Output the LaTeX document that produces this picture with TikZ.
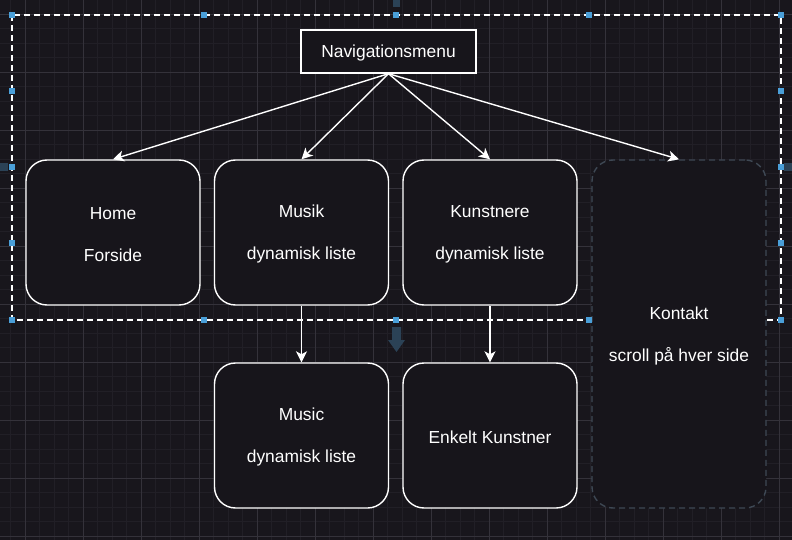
\documentclass[tikz,border=0pt]{standalone}
\usepackage{fontspec}
\setmainfont{Liberation Sans}
\usetikzlibrary{arrows.meta}
\definecolor{bgc}{HTML}{18161C}
\definecolor{gridminor}{HTML}{211F26}
\definecolor{gridmajor}{HTML}{34323A}
\definecolor{boxfill}{HTML}{17151B}
\definecolor{handleblue}{HTML}{4A9FD8}
\definecolor{hoverblue}{HTML}{2B4256}
\definecolor{ghost}{HTML}{3E4854}
\newcommand\lst{\rule[-0.6pt]{0pt}{17pt}}
\tikzset{
  x=1pt, y=-1pt,
  lbl/.style={font=\fontsize{17.4}{21}\selectfont, text=white, align=center},
  roundbox/.style={lbl, draw=white, line width=1.4pt, fill=boxfill, rounded corners=21pt,
    minimum width=174pt, minimum height=145pt, inner sep=0pt},
  ghostbox/.style={lbl, draw=ghost, line width=1.4pt, fill=boxfill, rounded corners=21pt,
    dash pattern=on 6pt off 4pt, minimum width=174pt, minimum height=348pt, inner sep=0pt},
  menubox/.style={lbl, draw=white, line width=1.4pt, fill=boxfill,
    minimum width=175pt, minimum height=43pt, inner sep=0pt},
  conn/.style={draw=white, line width=1.4pt, -{Stealth[length=11pt,width=11pt,inset=3pt]}},
  selbox/.style={draw=white, line width=1.3pt, dash pattern=on 6pt off 4pt},
  handle/.style={fill=handleblue, draw=none, minimum size=6pt, inner sep=0pt, rectangle},
}
\begin{document}
\begin{tikzpicture}
\useasboundingbox (0,0) rectangle (792,540);
\fill[bgc] (0,0) rectangle (792,540);
% grid
\begin{scope}
\clip (0,0) rectangle (792,540);
\foreach \i in {0,...,55} {
  \draw[gridminor, line width=0.8pt] ({10.5+14.5*\i},0) -- ({10.5+14.5*\i},540);
  \draw[gridminor, line width=0.8pt] (0,{-0.5+14.5*\i}) -- (792,{-0.5+14.5*\i});
}
\foreach \i in {0,...,14} {
  \draw[gridmajor, line width=0.9pt] ({25+58*\i},0) -- ({25+58*\i},540);
  \draw[gridmajor, line width=0.9pt] (0,{14+58*\i}) -- (792,{14+58*\i});
}
% hover arrows (partly outside view)
\fill[hoverblue] (393,0) rectangle (400,7);
\fill[hoverblue] (0,163) rectangle (8,171);
\fill[hoverblue] (784,163) rectangle (792,171);
\end{scope}
% selection rectangle
\draw[selbox] (12,15) rectangle (781,320);
% nodes
\node[menubox] (nav) at (388.5,51.5) {\lst Navigationsmenu};
\node[roundbox] (home) at (113,232.5) {\lst Home\\[21pt]\lst Forside};
\node[roundbox] (musik) at (301.5,232.5) {\lst Musik\\[21pt]\lst dynamisk liste};
\node[roundbox] (kunst) at (490,232.5) {\lst Kunstnere\\[21pt]\lst dynamisk liste};
\node[ghostbox] (kontakt) at (679,334) {\lst Kontakt\\[21pt]\lst scroll på hver side};
\node[roundbox] (music) at (301.5,435.5) {\lst Music\\[21pt]\lst dynamisk liste};
\node[roundbox] (enkelt) at (490,435.5) {\lst Enkelt Kunstner};
% hover arrow below selection
\fill[hoverblue] (392,327) -- (401,327) -- (401,340) -- (405,340) -- (396.5,352) -- (388,340) -- (392,340) -- cycle;
% connectors
\draw[conn] (nav.south) -- (home.north);
\draw[conn] (nav.south) -- (musik.north);
\draw[conn] (nav.south) -- (kunst.north);
\draw[conn] (nav.south) -- (kontakt.north);
\draw[conn] (musik.south) -- (music.north);
\draw[conn] (kunst.south) -- (enkelt.north);
% handles
\foreach \hx/\hy [count=\k] in {12/15,204/15,396/15,589/15,781/15,12/91,781/91,12/167,781/167,12/243,781/243,12/320,204/320,396/320,589/320,781/320} {
  \node[handle] (h\k) at (\hx,\hy) {};
}
\end{tikzpicture}
\end{document}
